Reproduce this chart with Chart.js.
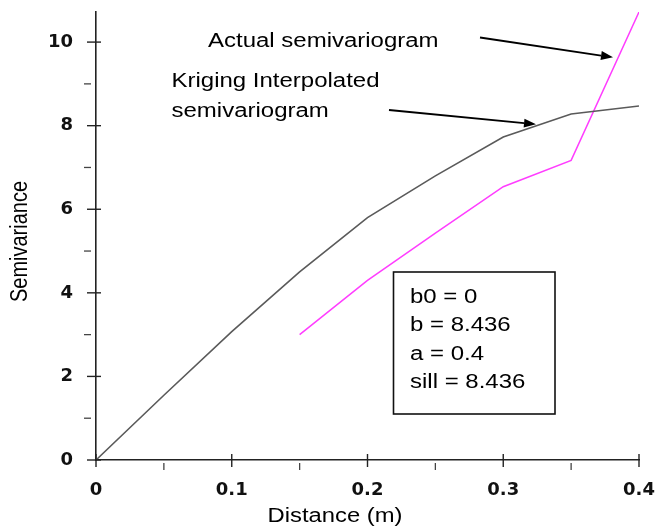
<!DOCTYPE html>
<html>
<head>
<meta charset="utf-8">
<script src="https://cdn.jsdelivr.net/npm/chart.js@4.4.1/dist/chart.umd.min.js"></script>
<style>
  html, body { margin: 0; padding: 0; background: #ffffff; }
  #wrap { width: 665px; height: 531px; }
</style>
</head>
<body>
<div id="wrap"><canvas id="c" width="665" height="531"></canvas></div>
<script>
// ---- data ----
const krigingDistance = [0, 0.05, 0.1, 0.15, 0.2, 0.25, 0.3, 0.35, 0.4];
const krigingSemivariance = [0, 1.55, 3.07, 4.5, 5.8, 6.8, 7.73, 8.28, 8.47];
const actualDistance = [0.15, 0.2, 0.25, 0.3, 0.35, 0.4];
const actualSemivariance = [3.0, 4.3, 5.43, 6.54, 7.17, 10.72];

const xTickValues = [0, 0.1, 0.2, 0.3, 0.4];
const xTickLabels = ['0', '0.1', '0.2', '0.3', '0.4'];
const xMinorTicks = [0.05, 0.15, 0.25, 0.35];
const yTickValues = [0, 2, 4, 6, 8, 10];
const yTickLabels = ['0', '2', '4', '6', '8', '10'];
const yMinorTicks = [1, 3, 5, 7, 9];

const xTitle = 'Distance (m)';
const yTitle = 'Semivariance';
const labelActual = 'Actual semivariogram';
const labelKriging = ['Kriging Interpolated', 'semivariogram'];
const boxLines = ['b0 = 0', 'b = 8.436', 'a = 0.4', 'sill = 8.436'];

// ---- build points ----
const krigingPts = krigingDistance.map((d, i) => ({ x: d, y: krigingSemivariance[i] }));
const actualPts = actualDistance.map((d, i) => ({ x: d, y: actualSemivariance[i] }));

const TEXT_FONT = '"Liberation Sans", Arial, sans-serif';
const STRETCH = 1.23;

function stretchText(ctx, str, x, y, size, sx) {
  ctx.save();
  ctx.translate(x, y);
  ctx.scale(sx, 1);
  ctx.font = size + 'px ' + TEXT_FONT;
  ctx.textAlign = 'left';
  ctx.textBaseline = 'alphabetic';
  ctx.fillText(str, 0, 0);
  ctx.restore();
}

function arrow(ctx, x1, y1, x2, y2) {
  const ang = Math.atan2(y2 - y1, x2 - x1);
  const len = 12, hw = 4.5;
  const bx = x2 - len * Math.cos(ang), by = y2 - len * Math.sin(ang);
  ctx.beginPath();
  ctx.moveTo(x1, y1);
  ctx.lineTo(bx, by);
  ctx.lineWidth = 1.8;
  ctx.strokeStyle = '#000';
  ctx.stroke();
  ctx.beginPath();
  ctx.moveTo(x2, y2);
  ctx.lineTo(bx + hw * Math.sin(ang), by - hw * Math.cos(ang));
  ctx.lineTo(bx - hw * Math.sin(ang), by + hw * Math.cos(ang));
  ctx.closePath();
  ctx.fillStyle = '#000';
  ctx.fill();
}

const decorations = {
  id: 'decorations',
  afterDraw(chart) {
    const ctx = chart.ctx;
    const xs = chart.scales.x, ys = chart.scales.y;
    const left = chart.chartArea.left, bottom = chart.chartArea.bottom;
    ctx.save();
    ctx.lineCap = 'butt';
    // major ticks crossing the axes
    ctx.strokeStyle = '#222';
    ctx.lineWidth = 1.4;
    xTickValues.forEach(v => {
      const p = xs.getPixelForValue(v);
      ctx.beginPath(); ctx.moveTo(p, bottom - 6); ctx.lineTo(p, bottom + 7); ctx.stroke();
    });
    yTickValues.forEach(v => {
      const p = ys.getPixelForValue(v);
      ctx.beginPath(); ctx.moveTo(left - 9, p); ctx.lineTo(left + 5, p); ctx.stroke();
    });
    // minor ticks
    ctx.strokeStyle = '#444';
    ctx.lineWidth = 1.3;
    xMinorTicks.forEach(v => {
      const p = xs.getPixelForValue(v);
      ctx.beginPath(); ctx.moveTo(p, bottom + 3); ctx.lineTo(p, bottom + 10); ctx.stroke();
    });
    yMinorTicks.forEach(v => {
      const p = ys.getPixelForValue(v);
      ctx.beginPath(); ctx.moveTo(left - 12, p); ctx.lineTo(left - 5, p); ctx.stroke();
    });

    // axis titles
    ctx.fillStyle = '#000';
    ctx.font = '19.5px ' + TEXT_FONT;
    const xw = ctx.measureText(xTitle).width * 1.22;
    stretchText(ctx, xTitle, 335 - xw / 2, 521.5, 19.5, 1.22);
    ctx.save();
    ctx.translate(20.5, 241.5);
    ctx.scale(1.15, 1);
    ctx.rotate(-Math.PI / 2);
    ctx.font = '20px ' + TEXT_FONT;
    ctx.textAlign = 'center';
    ctx.textBaseline = 'middle';
    ctx.fillText(yTitle, 0, 0);
    ctx.restore();

    // annotations
    stretchText(ctx, labelActual, 208, 47.3, 19.5, STRETCH);
    stretchText(ctx, labelKriging[0], 171.5, 87.3, 19.5, STRETCH);
    stretchText(ctx, labelKriging[1], 171.5, 116.7, 19.5, STRETCH);
    arrow(ctx, 480, 37.5, 613, 57.3);
    arrow(ctx, 389, 110, 536, 124.3);

    // parameter box
    ctx.strokeStyle = '#111';
    ctx.lineWidth = 1.6;
    ctx.strokeRect(393.5, 272, 161.5, 142);
    const baselines = [302.7, 331.2, 359.5, 388.3];
    boxLines.forEach((s, i) => stretchText(ctx, s, 410, baselines[i], 19.5, STRETCH));
    ctx.restore();
  }
};

new Chart(document.getElementById('c'), {
  type: 'line',
  data: {
    datasets: [
      {
        label: 'Kriging Interpolated semivariogram',
        data: krigingPts,
        borderColor: '#5a5a5a',
        borderWidth: 1.6,
        pointRadius: 0,
        tension: 0,
        fill: false
      },
      {
        label: 'Actual semivariogram',
        data: actualPts,
        borderColor: '#ff3dff',
        borderWidth: 1.5,
        pointRadius: 0,
        tension: 0,
        fill: false
      }
    ]
  },
  options: {
    responsive: false,
    animation: false,
    devicePixelRatio: 1,
    layout: { padding: { left: 0, top: 12, right: 26, bottom: 0 } },
    plugins: { legend: { display: false }, tooltip: { enabled: false } },
    scales: {
      x: {
        type: 'linear',
        min: 0,
        max: 0.4,
        grid: { display: false, drawTicks: false },
        border: { display: true, color: '#222', width: 1.6 },
        afterBuildTicks: s => { s.ticks = xTickValues.map(v => ({ value: v })); },
        afterFit: s => { s.height = 71; s.paddingLeft = 0; s.paddingRight = 0; },
        ticks: {
          padding: 20,
          color: '#111',
          font: { family: 'DejaVu Sans', weight: 'bold', size: 18 },
          callback: (v, i) => xTickLabels[i]
        }
      },
      y: {
        type: 'linear',
        min: 0,
        max: 10.72,
        grid: { display: false, drawTicks: false },
        border: { display: true, color: '#222', width: 1.6 },
        afterBuildTicks: s => { s.ticks = yTickValues.map(v => ({ value: v })); },
        afterFit: s => { s.width = 96; s.paddingTop = 0; s.paddingBottom = 0; },
        ticks: {
          padding: 23,
          color: '#111',
          font: { family: 'DejaVu Sans', weight: 'bold', size: 18 },
          callback: (v, i) => yTickLabels[i]
        }
      }
    }
  },
  plugins: [decorations]
});
</script>
</body>
</html>
